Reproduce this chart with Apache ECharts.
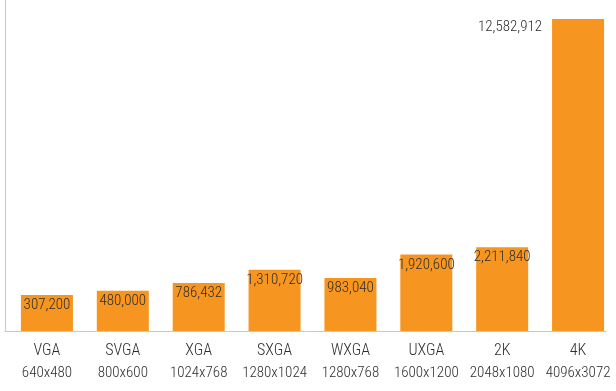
<!DOCTYPE html>
<html>
<head>
<meta charset="utf-8">
<script src="https://cdn.jsdelivr.net/npm/echarts@6/dist/echarts.min.js"></script>
<style>
html,body{margin:0;padding:0;background:#fff;}
#chart{width:616px;height:391px;}
</style>
</head>
<body>
<div id="chart"></div>
<script>
const names = ['VGA', 'SVGA', 'XGA', 'SXGA', 'WXGA', 'UXGA', '2K', '4K'];
const resolutions = ['640x480', '800x600', '1024x768', '1280x1024', '1280x768', '1600x1200', '2048x1080', '4096x3072'];
const pixels = [307200, 480000, 786432, 1310720, 983040, 1920600, 2211840, 12582912];

const FONT = '"Roboto Condensed", "Liberation Sans", Arial, sans-serif';
const fmt = v => v.toLocaleString('en-US');

const chart = echarts.init(document.getElementById('chart'), null, {renderer: 'canvas'});
chart.setOption({
  animation: false,
  backgroundColor: '#ffffff',
  grid: [
    {left: 9, right: 0, top: 19, bottom: 60},
    {left: 5, right: 10, top: 0, bottom: 60}
  ],
  xAxis: [
    {
      type: 'category',
      gridIndex: 0,
      data: names.map((n, i) => n + '\n' + resolutions[i]),
      axisLine: {show: false},
      axisTick: {show: false},
      axisLabel: {
        margin: 9,
        interval: 0,
        formatter: v => {
          const p = v.split('\n');
          return '{a|' + p[0] + '}\n{b|' + p[1] + '}';
        },
        rich: {
          a: {fontFamily: FONT, fontSize: 16, fontWeight: 300, color: '#2e2e2e', lineHeight: 22},
          b: {fontFamily: FONT, fontSize: 15, fontWeight: 300, color: '#2e2e2e', lineHeight: 23}
        }
      }
    },
    {
      type: 'category',
      gridIndex: 1,
      data: [],
      axisLine: {show: true, lineStyle: {color: '#c8c8c8', width: 1}},
      axisTick: {show: false},
      axisLabel: {show: false}
    }
  ],
  yAxis: [
    {
      type: 'value',
      gridIndex: 0,
      show: false,
      min: -1127000,
      max: 11300000,
      startValue: -1127000,
      splitLine: {show: false}
    },
    {
      type: 'value',
      gridIndex: 1,
      axisLine: {show: true, lineStyle: {color: '#c8c8c8', width: 1}},
      axisTick: {show: false},
      axisLabel: {show: false},
      splitLine: {show: false}
    }
  ],
  series: [{
    type: 'bar',
    xAxisIndex: 0,
    yAxisIndex: 0,
    barWidth: 52,
    clip: true,
    itemStyle: {color: '#F6951F'},
    data: pixels.map((v, i) => {
      const item = {value: v};
      if (i === pixels.length - 1) {
        item.label = {position: [-10, 1], align: 'right', verticalAlign: 'top'};
      }
      return item;
    }),
    label: {
      show: true,
      position: 'insideTop',
      distance: 3,
      fontFamily: FONT,
      fontSize: 15,
      fontWeight: 300,
      color: '#2e2e2e',
      formatter: p => fmt(p.value)
    }
  }]
});
</script>
</body>
</html>
